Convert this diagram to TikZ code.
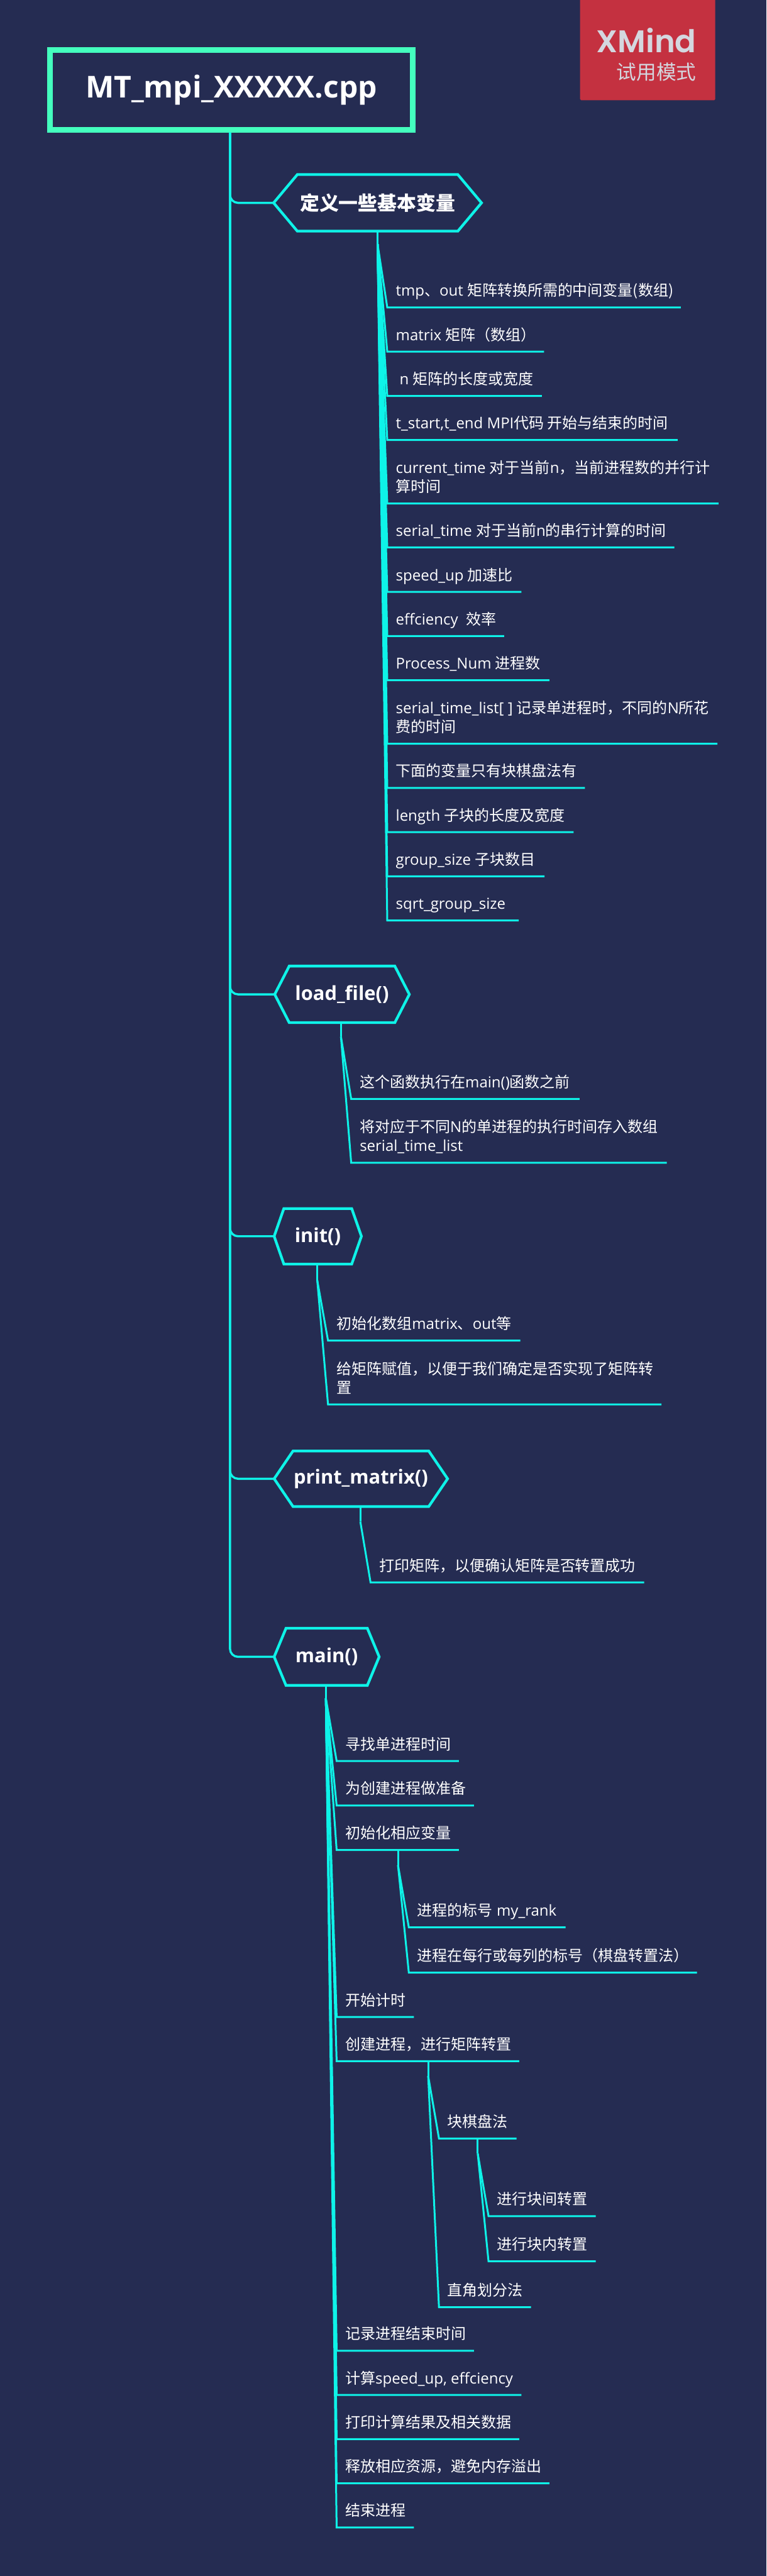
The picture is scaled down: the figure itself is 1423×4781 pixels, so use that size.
\documentclass[tikz,border=0pt]{standalone}
\usepackage{fontspec}
\usetikzlibrary{calc}
\setmainfont{Open Sans}
\newfontfamily\cjk{Noto Sans CJK SC}
\newfontfamily\xmf{Poppins SemiBold}
\newcommand{\C}[1]{{\cjk #1}}
\definecolor{bgc}{HTML}{252C52}
\definecolor{cyanl}{HTML}{0EF3E8}
\definecolor{rootc}{HTML}{44FFBE}
\definecolor{redc}{HTML}{C43140}
\definecolor{grayt}{HTML}{D4D7DF}
\tikzset{
  x=1pt,y=-1pt,
  conn/.style={draw=cyanl,line width=3.5pt,line join=miter},
  branch/.style={conn,line width=4pt,rounded corners=15pt},
  hexline/.style={draw=cyanl,line width=5pt,line join=miter},
  hexbox/.style={inner sep=0pt,outer sep=0pt,text=white,font=\fontsize{36}{40}\selectfont\bfseries},
  leaf/.style={inner sep=0pt,outer sep=0pt,anchor=base west,align=left,text=white,font=\fontsize{28}{35}\selectfont},
  rootbox/.style={draw=rootc,line width=10pt,inner sep=0pt,outer sep=0pt,minimum width=673pt,minimum height=148pt,text=white,font=\fontsize{56}{60}\selectfont\bfseries},
}
% name, cx, cy, corner width, tip dx, height, text
\newcommand{\hexnode}[7]{%
  \node[hexbox,minimum width=#4pt,minimum height=#6pt] (#1) at (#2,#3) {#7};
  \coordinate (#1tip) at ($(#1.west)+(-#5,0)$);
  \coordinate (#1tipr) at ($(#1.east)+(#5,0)$);
  \draw[hexline] (#1.north west) -- (#1.north east) -- (#1tipr) -- (#1.south east) -- (#1.south west) -- (#1tip) -- cycle;
}
% name, fork, x0, y, x1, text (baseline 21 above underline, last line)
\newcommand{\leafnode}[6]{%
  \coordinate (#1a) at (#3,#4);
  \coordinate (#1b) at (#5,#4);
  \draw[conn] (#2) -- (#1a) -- (#1b);
  \node[leaf,anchor=base west] (#1) at ($(#1a)+(16,-21)$) {#6};
}
% same with two lines
\newcommand{\leaftwo}[7]{%
  \coordinate (#1a) at (#3,#4);
  \coordinate (#1b) at (#5,#4);
  \draw[conn] (#2) -- (#1a) -- (#1b);
  \node[leaf,anchor=base west] (#1) at ($(#1a)+(16,-56)$) {#6};
  \node[leaf,anchor=base west] (#1x) at ($(#1a)+(16,-21)$) {#7};
}
\begin{document}
\begin{tikzpicture}
\fill[bgc] (0,0) rectangle (1423,4781);
\useasboundingbox (0,0) rectangle (1423,4781);
% XMind badge
\fill[redc,rounded corners=2pt] (1077,-5) rectangle (1328,186);
\node[inner sep=0pt,anchor=base east,text=grayt,font=\fontsize{58}{60}\selectfont\xmf] (xm) at (1293,98) {XMind};
\node[inner sep=0pt,anchor=base east,text=grayt,font=\fontsize{37}{40}\selectfont\cjk] (xt) at (1293,148) {试用模式};
% root
\node[rootbox] (root) at (429.5,167) {MT\_mpi\_XXXXX.cpp};
\coordinate (trunk) at (427,246);
% branch hexagons
\hexnode{hA}{701}{376.5}{298}{44}{105}{\C{定义一些基本变量}}
\hexnode{hB}{635}{1845.5}{196}{27}{105}{load\_file()}
\hexnode{hC}{590}{2294.5}{126}{18}{103}{init()}
\hexnode{hD}{670}{2744.5}{252}{35}{103}{print\_matrix()}
\hexnode{hE}{606.5}{3075}{151}{22}{106}{main()}
\foreach \h in {hA,hB,hC,hD,hE}{
  \draw[branch] (trunk) |- (\h tip);
}
% forks
\coordinate (fA0) at (701,429);\coordinate (fA) at (701,453);
\draw[conn] (fA0) -- (fA);
\coordinate (fB0) at (633,1898);\coordinate (fB) at (633,1924);
\draw[conn] (fB0) -- (fB);
\coordinate (fC0) at (589,2346);\coordinate (fC) at (589,2376);
\draw[conn] (fC0) -- (fC);
\coordinate (fD0) at (669,2796);\coordinate (fD) at (669,2824);
\draw[conn] (fD0) -- (fD);
\coordinate (fE0) at (605,3128);\coordinate (fE) at (605,3152);
\draw[conn] (fE0) -- (fE);
% group A
\leafnode{a1}{fA}{719}{570.5}{1264}{tmp\C{、}out \C{矩阵转换所需的中间变量(数组)}}
\leafnode{a2}{fA}{719}{652.5}{1010}{matrix \C{矩阵（数组）}}
\leafnode{a3}{fA}{719}{735}{1006}{\hspace{7pt}n \C{矩阵的长度或宽度}}
\leafnode{a4}{fA}{719}{816.5}{1258}{t\_start,t\_end MPI\C{代码 开始与结束的时间}}
\leaftwo{a5}{fA}{719}{934.5}{1334}{current\_time \C{对于当前}n\C{，当前进程数的并行计}}{\C{算时间}}
\leafnode{a6}{fA}{719}{1016}{1252}{serial\_time \C{对于当前}n\C{的串行计算的时间}}
\leafnode{a7}{fA}{719}{1098.5}{968}{speed\_up \C{加速比}}
\leafnode{a8}{fA}{719}{1180.5}{936}{effciency\ \ \C{效率}}
\leafnode{a9}{fA}{719}{1262.5}{1020}{Process\_Num \C{进程数}}
\leaftwo{a10}{fA}{719}{1380.5}{1332}{serial\_time\_list[ ] \C{记录单进程时，不同的}N\C{所花}}{\C{费的时间}}
\leafnode{a11}{fA}{719}{1462.5}{1086}{\C{下面的变量只有块棋盘法有}}
\leafnode{a12}{fA}{719}{1544.5}{1065}{length \C{子块的长度及宽度}}
\leafnode{a13}{fA}{719}{1626.5}{1011}{group\_size \C{子块数目}}
\leafnode{a14}{fA}{719}{1708.5}{963}{sqrt\_group\_size}
% group B
\leafnode{b1}{fB}{652}{2039.5}{1076}{\C{这个函数执行在}main()\C{函数之前}}
\leaftwo{b2}{fB}{652}{2158}{1238}{\C{将对应于不同}N\C{的单进程的执行时间存入数组}}{serial\_time\_list}
% group C
\leafnode{c1}{fC}{609}{2488}{966}{\C{初始化数组}matrix\C{、}out\C{等}}
\leaftwo{c2}{fC}{609}{2606.5}{1228}{\C{给矩阵赋值，以便于我们确定是否实现了矩阵转}}{\C{置}}
% group D
\leafnode{d1}{fD}{688}{2937}{1196}{\C{打印矩阵，以便确认矩阵是否转置成功}}
% group E
\leafnode{e1}{fE}{625}{3268.5}{852}{\C{寻找单进程时间}}
\leafnode{e2}{fE}{625}{3351}{880}{\C{为创建进程做准备}}
\leafnode{e3}{fE}{625}{3433.5}{852}{\C{初始化相应变量}}
\leafnode{e4}{fE}{625}{3743.5}{768.5}{\C{开始计时}}
\leafnode{e5}{fE}{625}{3825.5}{964}{\C{创建进程，进行矩阵转置}}
\leafnode{e6}{fE}{625}{4363}{880}{\C{记录进程结束时间}}
\leafnode{e7}{fE}{625}{4445}{968}{\C{计算}speed\_up, effciency}
\leafnode{e8}{fE}{625}{4527}{964}{\C{打印计算结果及相关数据}}
\leafnode{e9}{fE}{625}{4609}{1020}{\C{释放相应资源，避免内存溢出}}
\leafnode{e10}{fE}{625}{4691}{768.5}{\C{结束进程}}
% sub of e3
\coordinate (f30) at (739,3433.5);\coordinate (f3) at (739,3462);
\draw[conn] (f30) -- (f3);
\leafnode{e31}{f3}{759}{3577}{1050}{\C{进程的标号} my\_rank}
\leafnode{e32}{f3}{759}{3661}{1294}{\C{进程在每行或每列的标号（棋盘转置法）}}
% sub of e5
\coordinate (f50) at (795,3825.5);\coordinate (f5) at (795,3853);
\draw[conn] (f50) -- (f5);
\leafnode{e51}{f5}{815}{3969}{959}{\C{块棋盘法}}
\leafnode{e52}{f5}{815}{4282}{986}{\C{直角划分法}}
% sub of e51
\coordinate (f510) at (887,3969);\coordinate (f51) at (887,3997);
\draw[conn] (f510) -- (f51);
\leafnode{e511}{f51}{907}{4113}{1106}{\C{进行块间转置}}
\leafnode{e512}{f51}{907}{4197}{1106}{\C{进行块内转置}}
\end{tikzpicture}
\end{document}
